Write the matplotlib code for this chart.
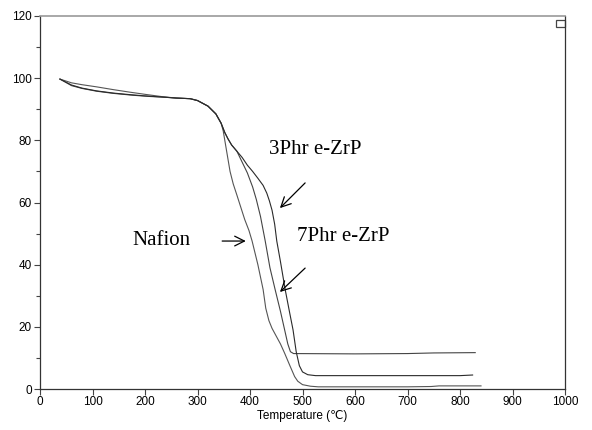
import matplotlib
matplotlib.use("Agg")
import matplotlib.pyplot as plt
from matplotlib.patches import Rectangle

# ---- data ----
T_naf = [38, 60, 80, 108, 140, 171, 200, 235, 260, 286, 300, 320, 335, 345, 349,
         355, 362, 368, 375, 390, 398, 404, 415, 425, 430, 436, 442, 450, 458, 466,
         476, 485, 491, 500, 515, 530, 600, 700, 745, 760, 840]
W_naf = [99.7, 98.5, 97.9, 97.2, 96.3, 95.5, 94.8, 94.0, 93.6, 93.4, 92.8, 91.0, 88.5, 85.5, 83.0,
         77.0, 70.0, 66.0, 62.4, 54.5, 51.0, 47.6, 40.0, 32.0, 26.0, 22.0, 19.5, 17.0, 14.5, 11.5,
         7.5, 4.0, 2.5, 1.4, 0.9, 0.7, 0.7, 0.7, 0.8, 1.0, 1.0]

T_7 = [38, 60, 80, 108, 140, 177, 210, 235, 260, 286, 300, 320, 335, 345, 352, 358, 365, 375,
       385, 395, 405, 412, 420, 429, 438, 448, 458, 466, 472, 477, 483, 600, 700, 750, 829]
W_7 = [99.7, 97.6, 96.7, 95.8, 95.1, 94.5, 94.1, 93.9, 93.6, 93.4, 92.8, 91.0, 88.5, 85.5, 82.5, 80.5, 78.5, 76.5,
       73.0, 69.5, 65.0, 61.0, 55.5, 47.6, 39.0, 31.9, 25.0, 19.0, 14.5, 12.0, 11.4, 11.3, 11.4, 11.6, 11.7]

T_3 = [38, 60, 80, 108, 140, 171, 200, 235, 260, 286, 300, 320, 335, 345, 352, 358, 365, 375,
       385, 395, 405, 415, 425, 432, 437, 442, 447, 451, 458, 467, 475, 482, 488, 494, 500, 510,
       525, 600, 700, 800, 824]
W_3 = [99.7, 97.8, 96.8, 95.9, 95.2, 94.7, 94.3, 93.9, 93.6, 93.4, 92.8, 91.0, 88.5, 85.5, 82.5, 80.5, 78.5, 76.5,
       74.5, 72.0, 70.0, 67.8, 65.5, 63.0, 60.5, 57.5, 53.0, 47.6, 41.0, 32.0, 25.0, 19.0, 12.0, 7.5, 5.5, 4.6,
       4.3, 4.3, 4.3, 4.3, 4.5]

x_ticks = [0, 100, 200, 300, 400, 500, 600, 700, 800, 900, 1000]
y_ticks = [0, 20, 40, 60, 80, 100, 120]
x_label = "Temperature (℃)"

labels = ["Nafion", "3Phr e-ZrP", "7Phr e-ZrP"]

# ---- figure ----
fig = plt.figure(figsize=(5.92, 4.30), dpi=100)
ax = fig.add_axes([40 / 592, 1 - 389 / 430, 525 / 592, 373 / 430])

ax.plot(T_naf, W_naf, color="#555555", lw=0.8)
ax.plot(T_7, W_7, color="#444444", lw=0.8)
ax.plot(T_3, W_3, color="#2a2a2a", lw=0.8)

ax.set_xlim(0, 1000)
ax.set_ylim(0, 120)
ax.set_xticks(x_ticks)
ax.set_yticks(y_ticks)
ax.set_yticks(range(10, 120, 20), minor=True)

tick_font = {"family": ["Liberation Sans", "DejaVu Sans"], "size": 8.5}
ax.set_xticklabels([str(v) for v in x_ticks], fontdict=tick_font)
ax.set_yticklabels([str(v) for v in y_ticks], fontdict=tick_font)
ax.tick_params(axis="both", which="both", direction="out", color="#444444", width=0.8)
ax.tick_params(axis="both", which="major", length=4, pad=2)
ax.tick_params(axis="x", which="major", pad=1)
ax.tick_params(axis="y", which="minor", length=3)
ax.set_xlabel(x_label, family=["Liberation Sans", "DejaVu Sans"], fontsize=8.5, labelpad=0)
ax.xaxis.set_label_coords(0.5, -0.056)

for s in ["left", "bottom", "right"]:
    ax.spines[s].set_color("#333333")
    ax.spines[s].set_linewidth(0.9)
ax.spines["top"].set_color("#999999")
ax.spines["top"].set_linewidth(1.2)

# small empty legend box at top right
ax.add_patch(Rectangle((0.982, 0.970), 0.018, 0.018, transform=ax.transAxes,
                       fill=False, edgecolor="#444444", lw=0.9, clip_on=False))

serif = ["Liberation Serif", "DejaVu Serif"]
ax.text(232, 47.9, labels[0], family=serif, fontsize=15, ha="center", va="center")
ax.text(524, 76.9, labels[1], family=serif, fontsize=15, ha="center", va="center")
ax.text(577, 49.2, labels[2], family=serif, fontsize=15, ha="center", va="center")

arrow = dict(arrowstyle="->,head_length=0.7,head_width=0.35", color="black", lw=0.9,
             shrinkA=0, shrinkB=0)
ax.annotate("", xy=(392, 47.6), xytext=(347, 47.6), arrowprops=arrow)
ax.annotate("", xy=(457, 58.2), xytext=(505, 66.3), arrowprops=arrow)
ax.annotate("", xy=(457, 31.2), xytext=(505, 38.9), arrowprops=arrow)

fig.savefig("out.png", dpi=100)
